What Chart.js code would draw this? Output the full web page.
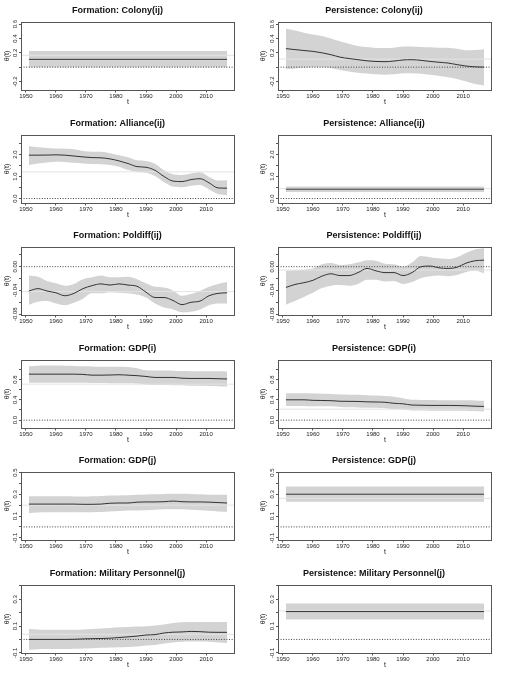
<!DOCTYPE html>
<html><head><meta charset="utf-8">
<script src="https://cdn.jsdelivr.net/npm/chart.js@4.4.1/dist/chart.umd.min.js"></script>
<style>html,body{margin:0;padding:0;background:#fff;}#wrap{position:relative;width:513px;height:675px;overflow:hidden;background:#fff;}canvas{position:absolute;}</style>
</head><body><div id="wrap"></div>
<script>
// ---------- DATA ----------
const years = [1951,1954,1957,1960,1963,1966,1969,1972,1975,1978,1981,1984,1987,1990,1993,1996,1999,2002,2005,2008,2011,2014,2017];
const yearsFlat = [1951, 2017];
const xTicks = [1950,1960,1970,1980,1990,2000,2010];
const titles = ["Formation: Colony(ij)","Persistence: Colony(ij)","Formation: Alliance(ij)","Persistence: Alliance(ij)",
  "Formation: Poldiff(ij)","Persistence: Poldiff(ij)","Formation: GDP(i)","Persistence: GDP(i)",
  "Formation: GDP(j)","Persistence: GDP(j)","Formation: Military Personnel(j)","Persistence: Military Personnel(j)"];

// y tick values and labels (R drops overlapping labels)
const colonyTicks = [-0.2,0,0.2,0.4,0.6];      const colonyLabels = ["-0.2","","0.2","0.4","0.6"];
const allianceTicks = [0,0.5,1,1.5,2,2.5];     const allianceLabels = ["0.0","","1.0","","2.0",""];
const poldiffTicks = [-0.08,-0.06,-0.04,-0.02,0,0.02]; const poldiffLabels = ["-0.08","","-0.04","","0.00",""];
const gdpiTicks = [0,0.2,0.4,0.6,0.8,1.0];     const gdpiLabels = ["0.0","","0.4","","0.8",""];
const gdpjTicks = [-0.1,0,0.1,0.2,0.3,0.4,0.5]; const gdpjLabels = ["-0.1","","0.1","","0.3","","0.5"];
const milTicks = [-0.1,0,0.1,0.2,0.3,0.4];     const milLabels = ["-0.1","","0.1","","0.3",""];

// Colony
const colonyFormMean = [0.109,0.109], colonyFormLower = [-0.003,-0.003], colonyFormUpper = [0.226,0.226], colonyFormRef = 0.165;
const colonyPersMean = [0.258,0.245,0.232,0.22,0.20,0.174,0.14,0.12,0.104,0.088,0.079,0.076,0.085,0.100,0.104,0.095,0.08,0.068,0.057,0.035,0.015,0.004,0.0];
const colonyPersUpper = [0.535,0.51,0.48,0.455,0.436,0.40,0.36,0.325,0.296,0.28,0.268,0.267,0.272,0.288,0.288,0.282,0.276,0.272,0.27,0.255,0.235,0.24,0.25];
const colonyPersLower = [-0.027,-0.018,-0.008,0.0,-0.003,-0.015,-0.04,-0.06,-0.078,-0.09,-0.1,-0.105,-0.1,-0.085,-0.085,-0.093,-0.105,-0.122,-0.14,-0.165,-0.2,-0.235,-0.256];
const colonyPersRef = 0.112;
// Alliance
const allianceFormMean = [1.97,1.97,1.975,1.985,1.97,1.93,1.89,1.86,1.85,1.80,1.71,1.59,1.45,1.42,1.28,1.0,0.79,0.77,0.86,0.90,0.71,0.48,0.47];
const allianceFormUpper = [2.39,2.33,2.30,2.27,2.26,2.24,2.16,2.13,2.12,2.06,1.97,1.88,1.74,1.71,1.58,1.28,1.10,1.07,1.14,1.19,0.98,0.82,0.83];
const allianceFormLower = [1.52,1.59,1.64,1.67,1.66,1.62,1.59,1.57,1.56,1.52,1.44,1.29,1.21,1.17,1.02,0.74,0.54,0.51,0.58,0.61,0.41,0.2,0.15];
const allianceFormRef = 1.21;
const alliancePersMean = [0.424,0.424], alliancePersLower = [0.30,0.30], alliancePersUpper = [0.545,0.545], alliancePersRef = 0.45;
// Poldiff
const poldiffFormMean = [-0.041,-0.037,-0.041,-0.044,-0.049,-0.045,-0.037,-0.032,-0.029,-0.031,-0.029,-0.031,-0.033,-0.043,-0.052,-0.052,-0.057,-0.064,-0.060,-0.058,-0.049,-0.045,-0.044];
const poldiffFormUpper = [-0.015,-0.017,-0.024,-0.028,-0.032,-0.029,-0.021,-0.018,-0.015,-0.018,-0.018,-0.017,-0.021,-0.028,-0.034,-0.035,-0.040,-0.049,-0.046,-0.041,-0.034,-0.029,-0.026];
const poldiffFormLower = [-0.064,-0.059,-0.058,-0.062,-0.065,-0.061,-0.054,-0.045,-0.045,-0.043,-0.044,-0.045,-0.047,-0.052,-0.062,-0.069,-0.072,-0.077,-0.076,-0.072,-0.065,-0.062,-0.062];
const poldiffFormRef = -0.042;
const poldiffPersMean = [-0.035,-0.030,-0.027,-0.023,-0.016,-0.012,-0.015,-0.015,-0.010,-0.003,-0.007,-0.010,-0.010,-0.015,-0.010,0.0,0.001,-0.002,-0.003,-0.001,0.006,0.010,0.011];
const poldiffPersUpper = [-0.007,-0.006,-0.005,-0.003,0.004,0.006,0.003,0.004,0.007,0.011,0.010,0.005,0.004,0.0,0.007,0.018,0.016,0.014,0.013,0.016,0.023,0.029,0.031];
const poldiffPersLower = [-0.064,-0.058,-0.051,-0.044,-0.036,-0.032,-0.031,-0.032,-0.029,-0.022,-0.022,-0.025,-0.024,-0.029,-0.026,-0.019,-0.016,-0.015,-0.016,-0.014,-0.009,-0.007,-0.011];
const poldiffPersRef = -0.0057;
// GDP(i)
const gdpiFormMean = [0.905,0.905,0.905,0.905,0.905,0.905,0.900,0.885,0.885,0.888,0.893,0.885,0.875,0.86,0.84,0.84,0.84,0.825,0.82,0.82,0.82,0.815,0.81];
const gdpiFormUpper = [1.06,1.07,1.075,1.073,1.07,1.065,1.058,1.055,1.05,1.05,1.05,1.045,1.02,0.98,0.977,0.975,0.972,0.967,0.964,0.963,0.962,0.96,0.957];
const gdpiFormLower = [0.734,0.736,0.738,0.738,0.738,0.737,0.735,0.732,0.73,0.728,0.728,0.725,0.72,0.70,0.69,0.69,0.688,0.685,0.675,0.675,0.673,0.668,0.662];
const gdpiFormRef = 0.708;
const gdpiPersMean = [0.40,0.40,0.40,0.39,0.387,0.383,0.372,0.37,0.368,0.36,0.357,0.352,0.332,0.322,0.297,0.294,0.29,0.29,0.29,0.288,0.283,0.275,0.27];
const gdpiPersUpper = [0.53,0.53,0.528,0.525,0.52,0.515,0.505,0.502,0.498,0.49,0.485,0.477,0.46,0.43,0.40,0.398,0.395,0.392,0.39,0.39,0.39,0.385,0.38];
const gdpiPersLower = [0.28,0.28,0.28,0.275,0.275,0.273,0.26,0.253,0.25,0.245,0.243,0.233,0.215,0.21,0.19,0.188,0.185,0.185,0.185,0.185,0.184,0.178,0.17];
const gdpiPersRef = 0.216;
// GDP(j)
const gdpjFormMean = [0.21,0.21,0.21,0.21,0.21,0.21,0.208,0.208,0.21,0.218,0.22,0.22,0.228,0.23,0.23,0.232,0.238,0.232,0.23,0.23,0.228,0.224,0.22];
const gdpjFormUpper = [0.282,0.282,0.283,0.283,0.282,0.281,0.28,0.282,0.285,0.288,0.29,0.292,0.295,0.298,0.3,0.303,0.305,0.305,0.303,0.3,0.297,0.296,0.295];
const gdpjFormLower = [0.125,0.132,0.134,0.134,0.134,0.134,0.134,0.136,0.138,0.142,0.147,0.15,0.152,0.153,0.158,0.162,0.163,0.163,0.158,0.153,0.148,0.143,0.14];
const gdpjFormRef = 0.2;
const gdpjPersMean = [0.301,0.301], gdpjPersLower = [0.232,0.232], gdpjPersUpper = [0.371,0.371], gdpjPersRef = 0.263;
// Military personnel(j)
const milFormMean = [0.0,0.0,0.0,0.0,0.0,0.001,0.004,0.006,0.007,0.009,0.014,0.019,0.025,0.033,0.036,0.048,0.054,0.056,0.060,0.058,0.054,0.053,0.053];
const milFormUpper = [0.077,0.075,0.073,0.072,0.072,0.072,0.075,0.078,0.081,0.086,0.09,0.093,0.096,0.099,0.104,0.112,0.122,0.128,0.13,0.131,0.131,0.131,0.131];
const milFormLower = [-0.077,-0.073,-0.072,-0.072,-0.071,-0.069,-0.067,-0.065,-0.062,-0.06,-0.058,-0.056,-0.052,-0.045,-0.041,-0.030,-0.022,-0.017,-0.015,-0.016,-0.018,-0.022,-0.026];
const milFormRef = 0.038;
const milPersMean = [0.208,0.208], milPersLower = [0.149,0.149], milPersUpper = [0.269,0.269], milPersRef = 0.213;

// axis limits
const xMin = 1948.36, xMax = 2019.64;
const colonyLim = [-0.326,0.637], allianceLim = [-0.227,2.909], poldiffLim = [-0.0823,0.034],
      gdpiLim = [-0.164,1.193], gdpjLim = [-0.125,0.51], milLim = [-0.105,0.41];

const panels = [
  {x:yearsFlat, mean:colonyFormMean, lower:colonyFormLower, upper:colonyFormUpper, ref:colonyFormRef, lim:colonyLim, ticks:colonyTicks, labels:colonyLabels},
  {x:years, mean:colonyPersMean, lower:colonyPersLower, upper:colonyPersUpper, ref:colonyPersRef, lim:colonyLim, ticks:colonyTicks, labels:colonyLabels},
  {x:years, mean:allianceFormMean, lower:allianceFormLower, upper:allianceFormUpper, ref:allianceFormRef, lim:allianceLim, ticks:allianceTicks, labels:allianceLabels},
  {x:yearsFlat, mean:alliancePersMean, lower:alliancePersLower, upper:alliancePersUpper, ref:alliancePersRef, lim:allianceLim, ticks:allianceTicks, labels:allianceLabels},
  {x:years, mean:poldiffFormMean, lower:poldiffFormLower, upper:poldiffFormUpper, ref:poldiffFormRef, lim:poldiffLim, ticks:poldiffTicks, labels:poldiffLabels},
  {x:years, mean:poldiffPersMean, lower:poldiffPersLower, upper:poldiffPersUpper, ref:poldiffPersRef, lim:poldiffLim, ticks:poldiffTicks, labels:poldiffLabels},
  {x:years, mean:gdpiFormMean, lower:gdpiFormLower, upper:gdpiFormUpper, ref:gdpiFormRef, lim:gdpiLim, ticks:gdpiTicks, labels:gdpiLabels},
  {x:years, mean:gdpiPersMean, lower:gdpiPersLower, upper:gdpiPersUpper, ref:gdpiPersRef, lim:gdpiLim, ticks:gdpiTicks, labels:gdpiLabels},
  {x:years, mean:gdpjFormMean, lower:gdpjFormLower, upper:gdpjFormUpper, ref:gdpjFormRef, lim:gdpjLim, ticks:gdpjTicks, labels:gdpjLabels},
  {x:yearsFlat, mean:gdpjPersMean, lower:gdpjPersLower, upper:gdpjPersUpper, ref:gdpjPersRef, lim:gdpjLim, ticks:gdpjTicks, labels:gdpjLabels},
  {x:years, mean:milFormMean, lower:milFormLower, upper:milFormUpper, ref:milFormRef, lim:milLim, ticks:milTicks, labels:milLabels},
  {x:yearsFlat, mean:milPersMean, lower:milPersLower, upper:milPersUpper, ref:milPersRef, lim:milLim, ticks:milTicks, labels:milLabels}
];

// ---------- RENDER ----------
const FAM = "'Liberation Sans', Arial, Helvetica, sans-serif";
const TICK_SIZE = 6;
const mctx = document.createElement('canvas').getContext('2d');
mctx.font = TICK_SIZE + "px " + FAM;
const widest = labels => Math.max(...labels.map(l => mctx.measureText(l).width));

const boxPlugin = {
  id: 'rbox',
  afterDraw(chart) {
    const {ctx, chartArea: a} = chart;
    ctx.save();
    ctx.strokeStyle = '#555'; ctx.lineWidth = 1;
    const l = Math.round(a.left) + 0.5, t = Math.round(a.top) + 0.5;
    const r = Math.round(a.right) - 0.5, b = Math.round(a.bottom) - 0.5;
    ctx.strokeRect(l, t, r - l, b - t);
    ctx.restore();
  }
};

const wrap = document.getElementById('wrap');
const series = (xs, ys) => xs.map((x, i) => ({x: x, y: ys[i]}));
const hline = v => [{x: xMin, y: v}, {x: xMax, y: v}];

panels.forEach((p, idx) => {
  const row = Math.floor(idx / 2), col = idx % 2;
  const cw = col === 0 ? 256 : 257, ch = 112;
  const cv = document.createElement('canvas');
  cv.width = cw; cv.height = ch;
  cv.style.left = (col * 256) + 'px';
  cv.style.top = Math.round(row * 112.5) + 'px';
  cv.style.width = cw + 'px'; cv.style.height = ch + 'px';
  wrap.appendChild(cv);
  const axisW = col === 0 ? 21 : 22;
  const yPad = 5.7 - 2 - widest(p.labels) / 2;
  const smooth = {cubicInterpolationMode: 'monotone', pointRadius: 0};
  new Chart(cv.getContext('2d'), {
    type: 'line',
    data: {
      datasets: [
        {data: hline(0), borderColor: '#444', borderWidth: 1, borderDash: [1, 1.6], pointRadius: 0, fill: false},
        Object.assign({data: series(p.x, p.mean), borderColor: '#333', borderWidth: 1, fill: false}, smooth),
        {data: hline(p.ref), borderColor: '#e3e3e3', borderWidth: 1, pointRadius: 0, fill: false},
        Object.assign({data: series(p.x, p.upper), borderWidth: 0, borderColor: 'rgba(0,0,0,0)', backgroundColor: '#d3d3d3', fill: '+1'}, smooth),
        Object.assign({data: series(p.x, p.lower), borderWidth: 0, borderColor: 'rgba(0,0,0,0)', fill: false}, smooth)
      ]
    },
    options: {
      responsive: false, animation: false, devicePixelRatio: 1,
      events: [],
      layout: {padding: {left: 0, right: 21, top: 0, bottom: 0}},
      plugins: {
        legend: {display: false}, tooltip: {enabled: false},
        title: {display: true, text: titles[idx], color: '#111',
          font: {size: 9, weight: 'bold', family: FAM}, padding: {top: 5.5, bottom: 5.2}}
      },
      scales: {
        x: {
          type: 'linear', min: xMin, max: xMax,
          afterBuildTicks: s => { s.ticks = xTicks.map(v => ({value: v})); },
          afterFit: s => { s.height = 21.5; },
          ticks: {autoSkip: false, minRotation: 0, maxRotation: 0, padding: 0, color: '#222',
            font: {size: TICK_SIZE, family: FAM}, callback: v => String(v)},
          grid: {drawOnChartArea: false, drawTicks: true, tickLength: 2, color: '#555'},
          border: {display: false},
          title: {display: true, text: 't', color: '#222', font: {size: 7, family: FAM}, padding: {top: 0, bottom: 5.8}}
        },
        y: {
          type: 'linear', min: p.lim[0], max: p.lim[1],
          afterBuildTicks: s => { s.ticks = p.ticks.map(v => ({value: v})); },
          afterFit: s => { s.width = axisW; },
          ticks: {autoSkip: false, minRotation: 90, maxRotation: 90, crossAlign: 'center', padding: yPad,
            color: '#222', font: {size: TICK_SIZE, family: FAM}, callback: (v, i) => p.labels[i]},
          grid: {drawOnChartArea: false, drawTicks: true, tickLength: 2, color: '#555'},
          border: {display: false},
          title: {display: true, text: 'θ(t)', color: '#222', font: {size: 7, family: FAM}, padding: {top: 3.3, bottom: 0}}
        }
      }
    },
    plugins: [boxPlugin]
  });
});
</script>
</body></html>
